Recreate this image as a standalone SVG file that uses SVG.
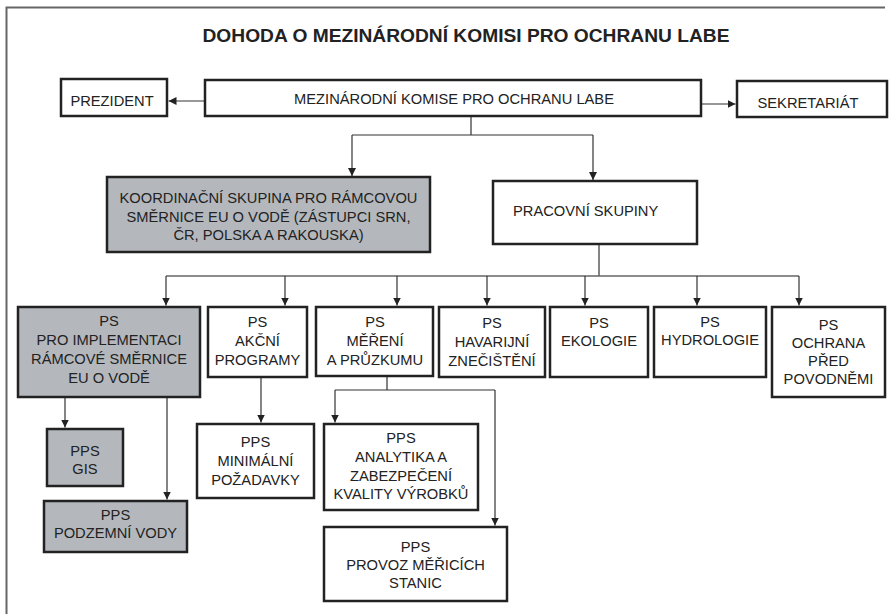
<svg xmlns="http://www.w3.org/2000/svg" width="893" height="614" viewBox="0 0 893 614">
<style>
.bg{fill:#ffffff}
.frame{fill:none;stroke:#666;stroke-width:2}
.box{fill:#ffffff;stroke:#222;stroke-width:2.5}
.grey{fill:#b4b8bd;stroke:#222;stroke-width:2.5}
.t{font-family:"Liberation Sans",Arial,Helvetica,sans-serif;font-size:14.7px;fill:#222;text-anchor:middle}
.ts{text-anchor:start}
.title{font-family:"Liberation Sans",Arial,Helvetica,sans-serif;font-size:19.2px;font-weight:bold;fill:#222;text-anchor:middle}
.c{fill:none;stroke:#333;stroke-width:1.2}
.bus{fill:none;stroke:#666;stroke-width:1.6}
.a{fill:none;stroke:#333;stroke-width:1.2;marker-end:url(#ah)}
</style>
<defs>
<marker id="ah" viewBox="0 0 10 10" refX="10" refY="5" markerWidth="8" markerHeight="8" markerUnits="userSpaceOnUse" orient="auto">
<path d="M0,0 L10,5 L0,10 z" fill="#222"/>
</marker>
</defs>
<rect class="bg" x="0" y="0" width="893" height="614"/>
<path class="frame" d="M6.5,614 V7.5 H885"/>
<text id="title" class="title" x="466" y="42">DOHODA O MEZINÁRODNÍ KOMISI PRO OCHRANU LABE</text>

<g id="connectors">
<path class="a" d="M205,101 H168.5"/>
<path class="a" d="M701,104 H735.5"/>
<path class="c" d="M471,116 V135 M352,135 H593"/>
<path class="a" d="M352,135 V176"/>
<path class="a" d="M593,135 V180"/>
<path class="bus" d="M599,244 V276 M166,276 H799"/>
<path class="a" d="M166,276 V305.5"/>
<path class="a" d="M285,276 V305.5"/>
<path class="a" d="M397,276 V305.5"/>
<path class="a" d="M487,276 V305.5"/>
<path class="a" d="M585,276 V305.5"/>
<path class="a" d="M697,276 V305.5"/>
<path class="a" d="M799,276 V305.5"/>
<path class="a" d="M65,397 V427.5"/>
<path class="a" d="M167,397 V499.5"/>
<path class="a" d="M261,377 V422.5"/>
<path class="c" d="M387,376 V390 M335,390 H495"/>
<path class="a" d="M335,390 V422.5"/>
<path class="a" d="M495,390 V525.5"/>
</g>

<g id="prezident">
<rect class="box" x="61" y="79" width="106" height="37"/>
<text class="t" x="112" y="106">PREZIDENT</text>
</g>
<g id="mkol">
<rect class="box" x="205" y="80" width="496" height="36"/>
<text class="t" x="454" y="104">MEZINÁRODNÍ KOMISE PRO OCHRANU LABE</text>
</g>
<g id="sekretariat">
<rect class="box" x="737" y="81" width="150" height="36"/>
<text class="t" x="808" y="108">SEKRETARIÁT</text>
</g>
<g id="koordinacni">
<rect class="grey" x="107" y="177" width="323" height="75"/>
<text class="t" x="268.5" y="203">KOORDINAČNÍ SKUPINA PRO RÁMCOVOU</text>
<text class="t" x="268.5" y="221.5">SMĚRNICE EU O VODĚ (ZÁSTUPCI SRN,</text>
<text class="t" x="268.5" y="240">ČR, POLSKA A RAKOUSKA)</text>
</g>
<g id="pracovni">
<rect class="box" x="493" y="181" width="204" height="63"/>
<text class="t ts" x="513" y="216">PRACOVNÍ SKUPINY</text>
</g>
<g id="ps_implementace">
<rect class="grey" x="18" y="307" width="182" height="90"/>
<text class="t" x="109" y="326">PS</text>
<text class="t" x="109" y="345">PRO IMPLEMENTACI</text>
<text class="t" x="109" y="364">RÁMCOVÉ SMĚRNICE</text>
<text class="t" x="109" y="383">EU O VODĚ</text>
</g>
<g id="ps_akcni">
<rect class="box" x="208" y="307" width="99" height="70"/>
<text class="t" x="257.5" y="327">PS</text>
<text class="t" x="257.5" y="346">AKČNÍ</text>
<text class="t" x="257.5" y="365">PROGRAMY</text>
</g>
<g id="ps_mereni">
<rect class="box" x="316" y="307" width="117" height="69"/>
<text class="t" x="375" y="327">PS</text>
<text class="t" x="375" y="346">MĚŘENÍ</text>
<text class="t" x="375" y="365">A PRŮZKUMU</text>
</g>
<g id="ps_havarijni">
<rect class="box" x="439" y="307" width="106" height="70"/>
<text class="t" x="492" y="328">PS</text>
<text class="t" x="492" y="347">HAVARIJNÍ</text>
<text class="t" x="492" y="366">ZNEČIŠTĚNÍ</text>
</g>
<g id="ps_ekologie">
<rect class="box" x="550" y="307" width="98" height="70"/>
<text class="t" x="599" y="328">PS</text>
<text class="t" x="599" y="346">EKOLOGIE</text>
</g>
<g id="ps_hydrologie">
<rect class="box" x="654" y="307" width="112" height="70"/>
<text class="t" x="710" y="327">PS</text>
<text class="t" x="710" y="345">HYDROLOGIE</text>
</g>
<g id="ps_ochrana">
<rect class="box" x="772" y="307" width="113" height="90"/>
<text class="t" x="828.5" y="330">PS</text>
<text class="t" x="828.5" y="348">OCHRANA</text>
<text class="t" x="828.5" y="366">PŘED</text>
<text class="t" x="828.5" y="384">POVODNĚMI</text>
</g>
<g id="pps_gis">
<rect class="grey" x="47" y="429" width="76" height="57"/>
<text class="t" x="85" y="456">PPS</text>
<text class="t" x="85" y="474">GIS</text>
</g>
<g id="pps_podzemni">
<rect class="grey" x="44" y="501" width="143" height="51"/>
<text class="t" x="115.5" y="520">PPS</text>
<text class="t" x="115.5" y="538">PODZEMNÍ VODY</text>
</g>
<g id="pps_minimalni">
<rect class="box" x="197" y="424" width="117" height="74"/>
<text class="t" x="255.5" y="447">PPS</text>
<text class="t" x="255.5" y="466">MINIMÁLNÍ</text>
<text class="t" x="255.5" y="485">POŽADAVKY</text>
</g>
<g id="pps_analytika">
<rect class="box" x="324" y="424" width="154" height="86"/>
<text class="t" x="401" y="443">PPS</text>
<text class="t" x="401" y="462">ANALYTIKA A</text>
<text class="t" x="401" y="481">ZABEZPEČENÍ</text>
<text class="t" x="401" y="499">KVALITY VÝROBKŮ</text>
</g>
<g id="pps_provoz">
<rect class="box" x="324" y="527" width="183" height="74"/>
<text class="t" x="415.5" y="552">PPS</text>
<text class="t" x="415.5" y="570">PROVOZ MĚŘICÍCH</text>
<text class="t" x="415.5" y="588">STANIC</text>
</g>
</svg>
